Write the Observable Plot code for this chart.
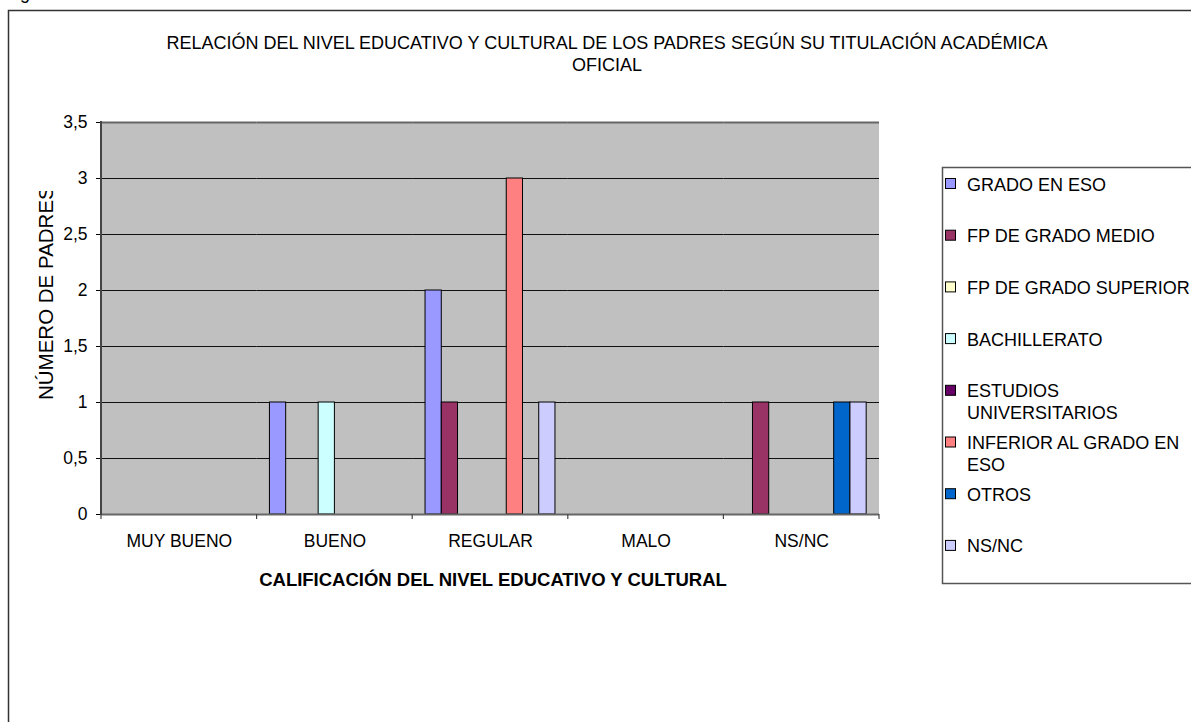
<!DOCTYPE html>
<html>
<head>
<meta charset="utf-8">
<script src="https://cdn.jsdelivr.net/npm/d3@7"></script>
<script src="https://cdn.jsdelivr.net/npm/@observablehq/plot@0.6"></script>
<style>
  html, body { margin: 0; padding: 0; background: #fff; overflow: hidden; }
  #chart { width: 1191px; height: 722px; }
</style>
</head>
<body>
<div id="chart"></div>
<script>
// ---------- data ----------
const titleLines = ["RELACIÓN DEL NIVEL EDUCATIVO Y CULTURAL DE LOS PADRES SEGÚN SU TITULACIÓN ACADÉMICA", "OFICIAL"];
const yLabel = "NÚMERO DE PADRES";
const xLabel = "CALIFICACIÓN DEL NIVEL EDUCATIVO Y CULTURAL";
const categories = ["MUY BUENO", "BUENO", "REGULAR", "MALO", "NS/NC"];
const series = ["GRADO EN ESO", "FP DE GRADO MEDIO", "FP DE GRADO SUPERIOR", "BACHILLERATO",
                "ESTUDIOS UNIVERSITARIOS", "INFERIOR AL GRADO EN ESO", "OTROS", "NS/NC"];
const legendLabels = [["GRADO EN ESO"], ["FP DE GRADO MEDIO"], ["FP DE GRADO SUPERIOR"], ["BACHILLERATO"],
                      ["ESTUDIOS", "UNIVERSITARIOS"], ["INFERIOR AL GRADO EN", "ESO"], ["OTROS"], ["NS/NC"]];
const colors = ["#9999FF", "#993366", "#FFFFCC", "#CCFFFF", "#660066", "#FF8080", "#0066CC", "#CCCCFF"];
const gradoEnEso        = [0, 1, 2, 0, 0];
const fpGradoMedio      = [0, 0, 1, 0, 1];
const fpGradoSuperior   = [0, 0, 0, 0, 0];
const bachillerato      = [0, 1, 0, 0, 0];
const estudiosUniv      = [0, 0, 0, 0, 0];
const inferiorGradoEso  = [0, 0, 3, 0, 0];
const otros             = [0, 0, 0, 0, 1];
const nsnc              = [0, 0, 1, 0, 1];
const yTicks = [0, 0.5, 1, 1.5, 2, 2.5, 3, 3.5];

const seriesValues = [gradoEnEso, fpGradoMedio, fpGradoSuperior, bachillerato, estudiosUniv, inferiorGradoEso, otros, nsnc];
const table = [];
series.forEach((s, i) => categories.forEach((c, j) => table.push({category: c, series: s, value: seriesValues[i][j]})));
const bars = table.filter(d => d.value > 0);
// grid lines repeated in every category panel (keeps every panel non-empty)
const grid = [];
categories.forEach(c => yTicks.filter(t => t > 0 && t < 3.5).forEach(t => grid.push({category: c, v: t})));

const W = 1191, H = 722;
const FONT = "'Liberation Sans', Arial, Helvetica, sans-serif";

const plot = Plot.plot({
  width: W, height: H,
  marginLeft: 101, marginRight: 312, marginTop: 122, marginBottom: 208,
  style: {fontFamily: FONT, fontSize: "17.5px", color: "#000", background: "transparent", overflow: "hidden"},
  fx: {domain: categories, padding: 0, round: false, axis: "bottom", label: null, tickSize: 0, tickPadding: 20},
  x: {domain: series, paddingInner: 0, paddingOuter: 0.79, round: false, axis: null},
  y: {domain: [0, 3.5], ticks: yTicks, tickSize: 5, tickPadding: 9, label: null,
      tickFormat: d => String(d).replace(".", ",")},
  color: {domain: series, range: colors},
  marks: [
    Plot.ruleY(grid, {fx: "category", y: "v", stroke: "#111", strokeWidth: 1.2}),
    Plot.ruleY([3.5], {stroke: "#666", strokeWidth: 2}),
    Plot.barY(bars, {fx: "category", x: "series", y: "value", fill: "series", stroke: "#000", strokeWidth: 1}),
    Plot.ruleY([0], {stroke: "#666", strokeWidth: 2})
  ]
});
document.getElementById("chart").appendChild(plot);

// ---------- extras drawn with the plot's scales ----------
const svg = d3.select(plot);
const fx = plot.scale("fx"), y = plot.scale("y");
const left = fx.apply(categories[0]);
const right = fx.apply(categories[categories.length - 1]) + fx.bandwidth;
const yTop = y.apply(3.5), y0 = y.apply(0);

svg.insert("rect", "g").attr("x", left).attr("y", yTop).attr("width", right - left).attr("height", y0 - yTop)
  .attr("fill", "#C0C0C0");

svg.append("line").attr("x1", left).attr("x2", left).attr("y1", yTop - 1).attr("y2", y0 + 1)
  .attr("stroke", "#444").attr("stroke-width", 2);
const bounds = categories.map(c => fx.apply(c)).concat([right]);
svg.append("g").selectAll("line").data(bounds).join("line")
  .attr("x1", d => d).attr("x2", d => d).attr("y1", y0).attr("y2", y0 + 5)
  .attr("stroke", "#444").attr("stroke-width", 1.2);

// outer frame
svg.append("path").attr("d", `M8.5,${H + 5}V10.5H${W + 5}`).attr("fill", "none").attr("stroke", "#333").attr("stroke-width", 1.5);
// fragment of preceding text
svg.append("text").attr("x", 20).attr("y", -1).attr("text-anchor", "start").attr("font-size", 18).attr("fill", "#000").text("g");

// title
svg.append("g").attr("text-anchor", "middle").attr("font-size", 18).attr("fill", "#000")
  .selectAll("text").data(titleLines).join("text")
  .attr("x", 607).attr("y", (d, i) => 49 + i * 22).text(d => d);

// y label (clipped like the original)
svg.append("clipPath").attr("id", "ylc").append("rect").attr("x", 0).attr("y", 191).attr("width", 80).attr("height", 300);
svg.append("g").attr("clip-path", "url(#ylc)")
  .append("text").attr("transform", "translate(52.5,400) rotate(-90)").attr("text-anchor", "start")
  .attr("font-size", 20.5).attr("fill", "#000").text(yLabel);

// x label
svg.append("text").attr("x", 493).attr("y", 586).attr("text-anchor", "middle")
  .attr("font-size", 18.5).attr("font-weight", "bold").attr("fill", "#000").text(xLabel);

// legend
const lg = svg.append("g").attr("text-anchor", "start");
lg.append("rect").attr("x", 942.5).attr("y", 167.5).attr("width", 300).attr("height", 416)
  .attr("fill", "#fff").attr("stroke", "#555").attr("stroke-width", 1.5);
legendLabels.forEach((lines, i) => {
  const cy = 184 + i * 51.7;
  lg.append("rect").attr("x", 945.5).attr("y", cy - 5.5).attr("width", 10).attr("height", 10)
    .attr("fill", colors[i]).attr("stroke", "#000").attr("stroke-width", 1);
  lines.forEach((t, k) => {
    lg.append("text").attr("x", 967).attr("y", cy + 6.5 + k * 22).attr("font-size", 18).attr("fill", "#000").text(t);
  });
});
</script>
</body>
</html>
